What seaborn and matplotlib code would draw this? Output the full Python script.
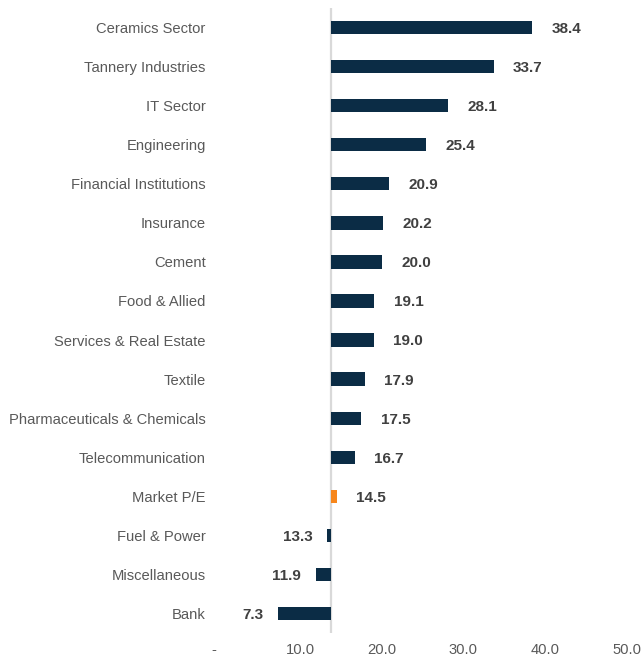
import matplotlib
matplotlib.use("Agg")
import matplotlib.pyplot as plt
import seaborn as sns
import pandas as pd

categories = [
    "Ceramics Sector", "Tannery Industries", "IT Sector", "Engineering",
    "Financial Institutions", "Insurance", "Cement", "Food & Allied",
    "Services & Real Estate", "Textile", "Pharmaceuticals & Chemicals",
    "Telecommunication", "Market P/E", "Fuel & Power", "Miscellaneous", "Bank",
]
pe_values = [38.4, 33.7, 28.1, 25.4, 20.9, 20.2, 20.0, 19.1,
             19.0, 17.9, 17.5, 16.7, 14.5, 13.3, 11.9, 7.3]
x_ticks = [0, 10, 20, 30, 40, 50]
x_tick_labels = ["-  ", "10.0", "20.0", "30.0", "40.0", "50.0"]

# value where the category axis crosses the value axis
axis_cross = 13.75

NAVY = "#0B2C45"
ORANGE = "#F7861B"

df = pd.DataFrame({"sector": categories, "pe": pe_values})
df["kind"] = ["market" if c == "Market P/E" else "sector" for c in categories]

sns.set_theme(style="white")
plt.rcParams["font.family"] = ["Liberation Sans", "DejaVu Sans"]

fig = plt.figure(figsize=(6.43, 6.57), dpi=100)
ax = fig.add_axes([0.3395, 0.0365, 0.6353, 0.9513])

sns.barplot(data=df, x="pe", y="sector", hue="kind",
            palette={"sector": NAVY, "market": ORANGE}, saturation=1,
            order=categories, orient="h", width=0.34, dodge=False,
            legend=False, ax=ax)

# bars grow from the axis crossing point rather than from zero
for patch in ax.patches:
    right = patch.get_x() + patch.get_width()
    patch.set_x(axis_cross)
    patch.set_width(right - axis_cross)
    patch.set_edgecolor("none")

for i, v in enumerate(pe_values):
    if v >= axis_cross:
        ax.annotate(f"{v:.1f}", (v, i), xytext=(14, -1), textcoords="offset points",
                    ha="left", va="center", fontsize=11, fontweight="bold",
                    color="#404040")
    else:
        ax.annotate(f"{v:.1f}", (v, i), xytext=(-10.5, -1),
                    textcoords="offset points", ha="right", va="center",
                    fontsize=11, fontweight="bold", color="#404040")

ax.axvline(axis_cross, color="#D9D9D9", lw=1.6, zorder=0)

ax.set_xlim(0, 50)
ax.set_ylim(len(categories) - 0.5, -0.5)
ax.set_xticks(x_ticks)
ax.set_xticklabels(x_tick_labels)
ax.set_xlabel("")
ax.set_ylabel("")
for s in ax.spines.values():
    s.set_visible(False)
ax.tick_params(axis="y", length=0, pad=9, labelsize=10.6, labelcolor="#595959")
ax.tick_params(axis="x", length=0, pad=7, labelsize=10.6, labelcolor="#595959")
ax.grid(False)

fig.savefig("out.png", dpi=100)
